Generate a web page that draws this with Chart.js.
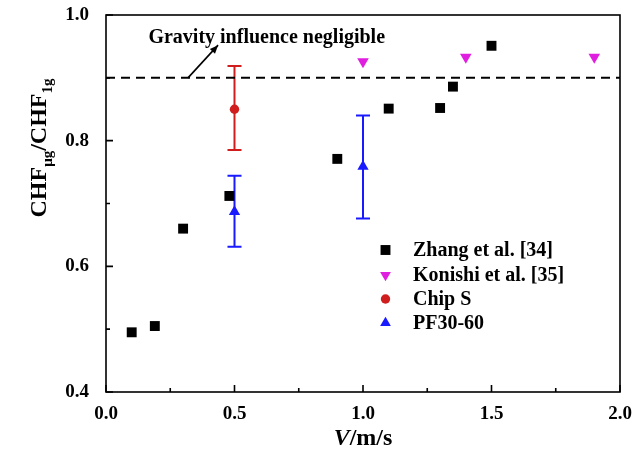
<!DOCTYPE html>
<html><head><meta charset="utf-8">
<script src="https://cdn.jsdelivr.net/npm/chart.js@4.4.1/dist/chart.umd.min.js"></script>
<style>html,body{margin:0;padding:0;background:#fff}#wrap{width:634px;height:458px;position:relative}</style>
</head><body><div id="wrap"><canvas id="c" width="634" height="458"></canvas></div>
<script>
// ---- data ----
const zhangV = [0.1, 0.19, 0.3, 0.48, 0.9, 1.1, 1.3, 1.35, 1.5];
const zhangR = [0.495, 0.505, 0.66, 0.712, 0.771, 0.851, 0.852, 0.886, 0.951];
const konishiV = [1.0, 1.4, 1.9];
const konishiR = [0.926, 0.933, 0.933];
const chipV = [0.5];
const chipR = [0.850];
const chipLo = [0.785];
const chipHi = [0.919];
const pfV = [0.5, 1.0];
const pfR = [0.687, 0.759];
const pfLo = [0.631, 0.676];
const pfHi = [0.744, 0.840];
const refLineV = [0, 2];
const refLineR = [0.9, 0.9];
const seriesNames = ['Zhang et al. [34]', 'Konishi et al. [35]', 'Chip S', 'PF30-60'];
const xMajorTicks = [0, 0.5, 1.0, 1.5, 2.0];
const xMinorTicks = [0.25, 0.75, 1.25, 1.75];
const yMajorTicks = [0.4, 0.6, 0.8, 1.0];
const yMinorTicks = [0.5, 0.7, 0.9];
const noteText = 'Gravity influence negligible';
const notePos = [0.165, 0.955];
const arrowFrom = [0.319, 0.9];
const arrowTo = [0.436, 0.952];

const FONT = "'Liberation Serif','Times New Roman',serif";
const pts = (xs, ys) => xs.map((x, i) => ({x: x, y: ys[i]}));

const C_BLACK = '#000000', C_MAG = '#e01ee0', C_RED = '#d01e1e', C_BLUE = '#1a1aff';

const datasets = [
  {label: 'ref', data: pts(refLineV, refLineR), showLine: true, borderColor: '#000', borderWidth: 2,
   borderDash: [9, 6], pointRadius: 0, fill: false, order: 5},
  {label: seriesNames[0], data: pts(zhangV, zhangR), pointStyle: 'rect', pointRadius: 7,
   backgroundColor: C_BLACK, borderColor: C_BLACK, borderWidth: 0, order: 1},
  {label: seriesNames[1], data: pts(konishiV, konishiR), pointStyle: 'triangle', rotation: 180, pointRadius: 6.7,
   backgroundColor: C_MAG, borderColor: C_MAG, borderWidth: 0, order: 1},
  {label: seriesNames[2], data: pts(chipV, chipR), pointStyle: 'circle', pointRadius: 4.7,
   backgroundColor: C_RED, borderColor: C_RED, borderWidth: 0, order: 1, err: [chipLo, chipHi]},
  {label: seriesNames[3], data: pts(pfV, pfR), pointStyle: 'triangle', pointRadius: 6.5,
   backgroundColor: C_BLUE, borderColor: C_BLUE, borderWidth: 0, order: 1, err: [pfLo, pfHi]}
];

function drawMarker(ctx, ds, x, y) {
  const opts = {pointStyle: ds.pointStyle, radius: ds.pointRadius, rotation: ds.rotation || 0, borderWidth: 0};
  ctx.save();
  ctx.fillStyle = ds.backgroundColor;
  ctx.strokeStyle = ds.backgroundColor;
  Chart.helpers.drawPoint(ctx, opts, x, y);
  ctx.restore();
}

const customPlugin = {
  id: 'custom',
  beforeDatasetsDraw(chart) {
    const ctx = chart.ctx, xs = chart.scales.x, ys = chart.scales.y;
    chart.data.datasets.forEach(ds => {
      if (!ds.err) return;
      ctx.save();
      ctx.strokeStyle = ds.backgroundColor;
      ctx.lineWidth = 2;
      ds.data.forEach((p, i) => {
        const px = xs.getPixelForValue(p.x);
        const lo = ys.getPixelForValue(ds.err[0][i]);
        const hi = ys.getPixelForValue(ds.err[1][i]);
        ctx.beginPath();
        ctx.moveTo(px, lo); ctx.lineTo(px, hi);
        ctx.moveTo(px - 7, lo); ctx.lineTo(px + 7, lo);
        ctx.moveTo(px - 7, hi); ctx.lineTo(px + 7, hi);
        ctx.stroke();
      });
      ctx.restore();
    });
  },
  afterDraw(chart) {
    const ctx = chart.ctx, a = chart.chartArea, xs = chart.scales.x, ys = chart.scales.y;
    ctx.save();
    ctx.strokeStyle = '#000';
    ctx.lineWidth = 1.6;
    ctx.strokeRect(a.left, a.top, a.right - a.left, a.bottom - a.top);
    ctx.beginPath();
    xMajorTicks.forEach(v => { const p = xs.getPixelForValue(v); ctx.moveTo(p, a.bottom); ctx.lineTo(p, a.bottom - 7); });
    xMinorTicks.forEach(v => { const p = xs.getPixelForValue(v); ctx.moveTo(p, a.bottom); ctx.lineTo(p, a.bottom - 4); });
    yMajorTicks.forEach(v => { const p = ys.getPixelForValue(v); ctx.moveTo(a.left, p); ctx.lineTo(a.left + 7, p); });
    yMinorTicks.forEach(v => { const p = ys.getPixelForValue(v); ctx.moveTo(a.left, p); ctx.lineTo(a.left + 4, p); });
    ctx.stroke();

    ctx.fillStyle = '#000';
    ctx.font = 'bold 20px ' + FONT;
    ctx.textAlign = 'left'; ctx.textBaseline = 'alphabetic';
    ctx.fillText(noteText, xs.getPixelForValue(notePos[0]), ys.getPixelForValue(notePos[1]));
    const ax0 = xs.getPixelForValue(arrowFrom[0]), ay0 = ys.getPixelForValue(arrowFrom[1]);
    const ax1 = xs.getPixelForValue(arrowTo[0]), ay1 = ys.getPixelForValue(arrowTo[1]);
    ctx.lineWidth = 1.6;
    ctx.beginPath(); ctx.moveTo(ax0, ay0); ctx.lineTo(ax1, ay1); ctx.stroke();
    const ang = Math.atan2(ay1 - ay0, ax1 - ax0), L = 9, W = 0.4;
    ctx.beginPath();
    ctx.moveTo(ax1, ay1);
    ctx.lineTo(ax1 - L * Math.cos(ang - W), ay1 - L * Math.sin(ang - W));
    ctx.lineTo(ax1 - L * Math.cos(ang + W), ay1 - L * Math.sin(ang + W));
    ctx.closePath(); ctx.fill();

    const legX = 385.5, legTX = 413, legY = [250, 275, 299, 323];
    ctx.font = 'bold 20px ' + FONT;
    ctx.textBaseline = 'middle';
    chart.data.datasets.slice(1).forEach((ds, i) => {
      const r = Object.assign({}, ds, {pointRadius: ds.pointStyle === 'circle' ? 4.7 : (ds.pointStyle === 'rect' ? 7 : 6.2)});
      drawMarker(ctx, r, legX, legY[i]);
      ctx.fillStyle = '#000';
      ctx.fillText(ds.label, legTX, legY[i] + 1);
    });

    ctx.textBaseline = 'alphabetic';
    const cx = (a.left + a.right) / 2;
    const f1 = 'italic bold 24px ' + FONT, f2 = 'bold 24px ' + FONT;
    ctx.font = f1; const w1 = ctx.measureText('V').width;
    ctx.font = f2; const w2 = ctx.measureText('/m/s').width;
    let sx = cx - (w1 + w2) / 2;
    ctx.font = f1; ctx.fillText('V', sx, 445);
    ctx.font = f2; ctx.fillText('/m/s', sx + w1, 445);

    ctx.save();
    ctx.translate(46, 148);
    ctx.rotate(-Math.PI / 2);
    const big = 'bold 24px ' + FONT, small = 'bold 15px ' + FONT;
    const parts = [['CHF', big, 0], ['μg', small, 6], ['/CHF', big, 0], ['1g', small, 6]];
    let tot = 0;
    parts.forEach(p => { ctx.font = p[1]; p.push(ctx.measureText(p[0]).width); tot += p[3]; });
    let px = -tot / 2;
    parts.forEach(p => { ctx.font = p[1]; ctx.fillText(p[0], px, p[2]); px += p[3]; });
    ctx.restore();

    ctx.restore();
  }
};

new Chart(document.getElementById('c'), {
  type: 'scatter',
  data: {datasets: datasets},
  options: {
    responsive: false,
    animation: false,
    devicePixelRatio: 1,
    layout: {padding: {top: 15, right: 14, left: 0, bottom: 0}},
    plugins: {legend: {display: false}, tooltip: {enabled: false}},
    scales: {
      x: {
        type: 'linear', min: 0, max: 2,
        afterBuildTicks: s => { s.ticks = xMajorTicks.map(v => ({value: v})); },
        afterFit: s => { s.height = 66; s.paddingLeft = 0; s.paddingRight = 0; },
        grid: {display: false}, border: {display: false},
        ticks: {padding: 3, color: '#000', font: {family: FONT, size: 19, weight: 'bold'},
                callback: v => Number(v).toFixed(1), maxRotation: 0, autoSkip: false}
      },
      y: {
        type: 'linear', min: 0.4, max: 1.0,
        afterBuildTicks: s => { s.ticks = yMajorTicks.map(v => ({value: v})); },
        afterFit: s => { s.width = 106; s.paddingTop = 0; s.paddingBottom = 0; },
        grid: {display: false}, border: {display: false},
        ticks: {padding: 9, color: '#000', font: {family: FONT, size: 19, weight: 'bold'},
                callback: v => Number(v).toFixed(1), autoSkip: false}
      }
    }
  },
  plugins: [customPlugin]
});
</script>
</body></html>
